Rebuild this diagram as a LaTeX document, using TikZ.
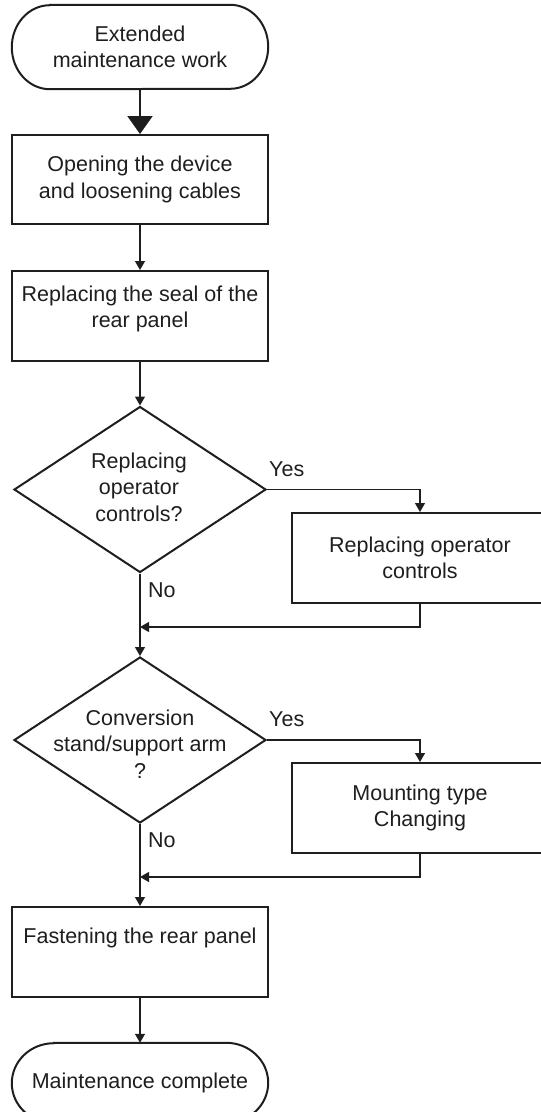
\documentclass[tikz,border=0pt]{standalone}
\usepackage{fontspec}
\setmainfont{Liberation Sans}
\usetikzlibrary{arrows.meta,shapes.geometric}
\definecolor{ink}{HTML}{1E1E1E}
\tikzset{
  txt/.style={align=center,inner sep=0pt,font=\fontsize{21.5}{26.5}\selectfont,text=ink},
  boxnode/.style={draw=ink,line width=2pt,minimum width=256pt,minimum height=90pt,inner sep=0pt,align=center,font=\fontsize{21.5}{26.5}\selectfont,text=ink},
  termnode/.style={minimum width=256pt,minimum height=84pt,inner sep=0pt,align=center,font=\fontsize{21.5}{26.5}\selectfont,text=ink},
  decnode/.style={diamond,draw=ink,line width=2pt,minimum width=252pt,minimum height=166pt,inner sep=0pt,aspect=1.52},
  outline/.style={draw=ink,line width=2pt},
  conn/.style={draw=ink,line width=1.3pt,-{Triangle[width=10pt,length=9pt]}},
  bigconn/.style={draw=ink,line width=2.2pt,-{Triangle[width=25pt,length=18pt]}},
  lbl/.style={anchor=west,inner sep=0pt,font=\fontsize{21.5}{26.5}\selectfont,text=ink}
}
\begin{document}
\begin{tikzpicture}[x=1pt,y=1pt]
\useasboundingbox (0,0) rectangle (541,-1112);
\clip (0,0) rectangle (541,-1112);
% terminal 1
\node[termnode] (t1) at (140,-47) {Extended\\maintenance work};
\draw[outline] ([xshift=38pt]t1.north west) -- ([xshift=-38pt]t1.north east)
  arc[start angle=90,end angle=-90,x radius=38pt,y radius=42pt]
  -- ([xshift=38pt]t1.south west)
  arc[start angle=270,end angle=90,x radius=38pt,y radius=42pt] -- cycle;
% boxes
\node[boxnode,minimum height=89pt] (b1) at (140,-179.5) {Opening the device\\and loosening cables};
\node[boxnode] (b2) at (140,-316) {};
\node[txt] (b2t) at (140,-309) {Replacing the seal of the\\rear panel};
% decision 1
\node[decnode] (d1) at (140,-489.5) {};
\node[txt] (d1t) at (139,-487) {Replacing\\operator\\controls?};
\node[boxnode] (b3) at (420,-558) {Replacing operator\\controls};
\coordinate (m1) at (140,-627);
% decision 2
\node[decnode] (d2) at (140,-740) {};
\node[txt] (d2t) at (140,-744) {Conversion\\stand/support arm\\?};
\node[boxnode] (b4) at (420,-808) {Mounting type\\Changing};
\coordinate (m2) at (140,-877);
\node[boxnode] (b5) at (140,-952) {};
\node[txt] (b5t) at (140,-938) {Fastening the rear panel};
% terminal 2
\node[termnode,minimum height=80pt] (t2) at (140,-1083) {Maintenance complete};
\draw[outline] ([xshift=42pt]t2.north west) -- ([xshift=-42pt]t2.north east)
  arc[start angle=90,end angle=-90,x radius=42pt,y radius=40pt]
  -- ([xshift=42pt]t2.south west)
  arc[start angle=270,end angle=90,x radius=42pt,y radius=40pt] -- cycle;
% labels
\node[lbl] (y1) at (269,-469) {Yes};
\node[lbl] (n1) at (148,-590) {No};
\node[lbl] (y2) at (269,-719) {Yes};
\node[lbl] (n2) at (148,-840) {No};
% connectors
\draw[bigconn] (t1.south) -- (b1.north);
\draw[conn] (b1.south) -- (b2.north);
\draw[conn] (b2.south) -- (d1.north);
\draw[conn] (d1.east) -| (b3.north);
\draw[conn] (b3.south) |- (m1);
\draw[conn] (d1.south) -- (d2.north);
\draw[conn] (d2.east) -| (b4.north);
\draw[conn] (b4.south) |- (m2);
\draw[conn] (d2.south) -- (b5.north);
\draw[conn] (b5.south) -- (t2.north);
\end{tikzpicture}
\end{document}
